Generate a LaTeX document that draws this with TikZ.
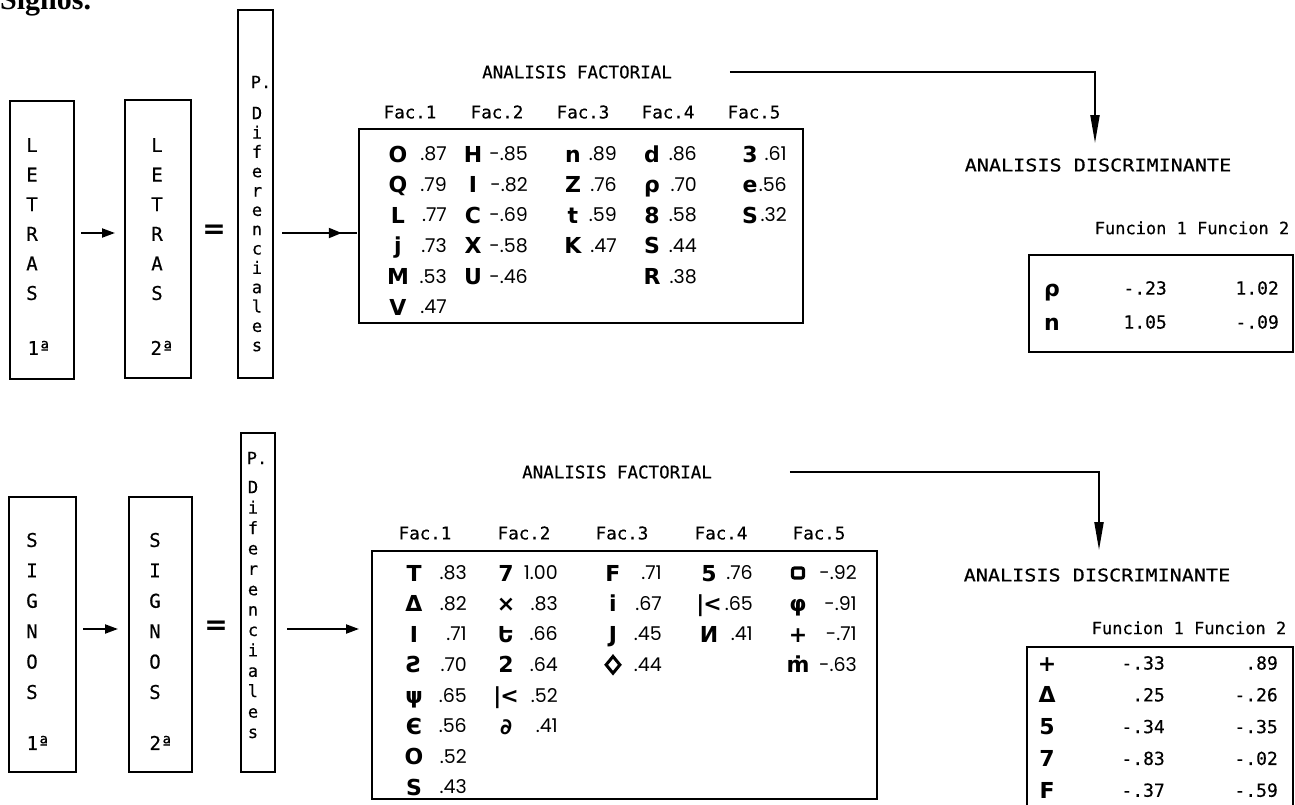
\documentclass[tikz,border=0pt]{standalone}
\usepackage{fontspec}
\usepackage{graphicx}
\setmainfont{Liberation Serif}
\newfontfamily\monof[FakeBold=0.4]{DejaVu Sans Mono}
\newfontfamily\symf{DejaVu Sans}
\newfontfamily\valf{Poppins}
\usetikzlibrary{arrows.meta,decorations.markings,shapes.geometric}
\begin{document}
\begin{tikzpicture}[x=1pt,y=-1pt,
  box/.style={draw, line width=2.2pt, inner sep=0pt, outer sep=0pt},
  conn/.style={line width=2pt},
  tip/.style={-{Triangle[length=13pt,width=9pt]}},
  longtip/.style={-{Triangle[length=28pt,width=9pt]}},
  midtip/.style={postaction={decorate}, decoration={markings, mark=at position 0.8 with {\arrow{Triangle[length=13pt,width=10pt]}}}},
  hdr/.style={font=\monof\fontsize{17.5}{20}\selectfont, inner sep=0pt, outer sep=0pt, text height=12.8pt, text depth=0pt},
  fun/.style={font=\monof\fontsize{17}{20}\selectfont, inner sep=0pt, outer sep=0pt, text height=12.4pt, text depth=0pt},
  boxl/.style={font=\monof\fontsize{19}{20}\selectfont, inner sep=0pt, text height=13.9pt, text depth=0pt},
  pl/.style={font=\monof\fontsize{17}{20}\selectfont, inner sep=0pt, text height=12.4pt, text depth=0pt},
  eq/.style={font=\symf\bfseries\fontsize{28}{30}\selectfont, inner sep=0pt},
  sym/.style={font=\symf\bfseries\fontsize{22}{24}\selectfont, inner sep=0pt, text height=16pt, text depth=0pt},
  glyphbox/.style={draw, line width=3.2pt, rounded corners=2pt, minimum width=11pt, minimum height=10pt, inner sep=0pt},
  glyphdia/.style={diamond, draw, line width=3pt, minimum width=15pt, minimum height=18pt, inner sep=0pt},
  val/.style={font=\valf\fontsize{19}{20}\selectfont, inner sep=0pt, text height=13.3pt, text depth=0pt, anchor=east},
  dval/.style={font=\monof\fontsize{18}{20}\selectfont, inner sep=0pt, text height=13.1pt, text depth=0pt, anchor=east}
]
\useasboundingbox (0,0) rectangle (1295,804);
\clip (0,0) rectangle (1295,804);
\fill[white] (0,0) rectangle (1295,804);

% title
\node[font=\bfseries\fontsize{30}{30}\selectfont, anchor=base west, inner sep=0pt] (ttl) at (0,9) {Signos.};

% ================= TOP: LETRAS =================
\node[box, minimum width=64pt, minimum height=278pt] (L1) at (42,240) {};
\node[box, minimum width=66pt, minimum height=278pt] (L2) at (158,239) {};
\node[box, minimum width=35pt, minimum height=368pt] (P1) at (255.5,194) {};
\foreach \c [count=\k from 0] in {L,E,T,R,A,S} {
  \node[boxl] (la\k) at (32,145+29.6*\k) {\c};
  \node[boxl] (lb\k) at (157,145+29.6*\k) {\c};
}
\node[boxl] (la6) at (39,348) {1ª};
\node[boxl] (lb6) at (162,348) {2ª};
\node[pl] (pa0) at (261,82) {P.};
\foreach \c [count=\k from 1] in {D,i,f,e,r,e,n,c,i,a,l,e,s} {
  \node[pl] (pa\k) at (257,113+19.33*\k-19.33) {\c};
}

% top factorial table
\node[box, minimum width=444pt, minimum height=194pt] (T1) at (581,226) {};
\node[hdr] (AF1) at (577,72) {ANALISIS FACTORIAL};
\foreach \x [count=\k] in {410,497,583,668,754} {
  \node[hdr] (fa\k) at (\x,112) {Fac.\k};
}
\foreach \s/\v [count=\k from 0] in {O/.87, Q/.79, L/.77, j/.73, M/.53, V/.47} {
  \node[sym] (t1a\k) at (398,154+30.6*\k) {\s};
  \node[val] (t1av\k) at (447,154+30.6*\k) {\v};
}
\foreach \s/\v [count=\k from 0] in {H/-.85, I/-.82, C/-.69, X/-.58, U/-.46} {
  \node[sym] (t1b\k) at (473,154+30.6*\k) {\s};
  \node[val] (t1bv\k) at (528,154+30.6*\k) {\v};
}
\foreach \s/\v [count=\k from 0] in {n/.89, Z/.76, t/.59, K/.47} {
  \node[sym] (t1c\k) at (573,154+30.6*\k) {\s};
  \node[val] (t1cv\k) at (617,154+30.6*\k) {\v};
}
\foreach \s/\v [count=\k from 0] in {d/.86, ρ/.70, 8/.58, S/.44, R/.38} {
  \node[sym] (t1d\k) at (652,154+30.6*\k) {\s};
  \node[val] (t1dv\k) at (697,154+30.6*\k) {\v};
}
\foreach \s/\v [count=\k from 0] in {3/.61, e/.56, S/.32} {
  \node[sym] (t1e\k) at (750,154+30.6*\k) {\s};
  \node[val] (t1ev\k) at (787,154+30.6*\k) {\v};
}

% top discriminant
\node[hdr] (AD1) at (1098,165) {\scalebox{1.15}[1]{ANALISIS DISCRIMINANTE}};
\node[fun] (F1) at (1192,228) {Funcion 1 Funcion 2};
\node[box, minimum width=264pt, minimum height=97pt] (D1) at (1161,303.5) {};
\foreach \s/\a/\b [count=\k from 0] in {ρ/-.23/1.02, n/1.05/-.09} {
  \node[sym] (d1s\k) at (1052,288+34*\k) {\s};
  \node[dval] (d1a\k) at (1167,288+34*\k) {\a};
  \node[dval] (d1b\k) at (1279,288+34*\k) {\b};
}

% top connectors
\coordinate (r1) at (0,233);
\draw[conn, tip, shorten <=7pt, shorten >=10pt] (L1.east |- r1) -- (L2.west |- r1);
\node[eq] (eq1) at (214,232) {=};
\draw[conn, midtip, shorten <=9pt, shorten >=2pt] (P1.east |- r1) -- (T1.west |- r1);
\draw[conn, longtip] ([xshift=58pt]AF1.east) -| ([xshift=-3pt,yshift=15.5pt]AD1.north);

% ================= BOTTOM: SIGNOS =================
\node[box, minimum width=67pt, minimum height=275pt] (S1) at (42.5,634.5) {};
\node[box, minimum width=63pt, minimum height=275pt] (S2) at (160.5,634.5) {};
\node[box, minimum width=34pt, minimum height=339pt] (P2) at (258,602.5) {};
\foreach \c [count=\k from 0] in {S,I,G,N,O,S} {
  \node[boxl] (sa\k) at (32,540+30.4*\k) {\c};
  \node[boxl] (sb\k) at (155,540+30.4*\k) {\c};
}
\node[boxl] (sa6) at (38,743) {1ª};
\node[boxl] (sb6) at (161,743) {2ª};
\node[pl] (pb0) at (257,458) {P.};
\foreach \c [count=\k from 1] in {D,i,f,e,r,e,n,c,i,a,l,e,s} {
  \node[pl] (pb\k) at (253,487+20.4*\k-20.4) {\c};
}

% bottom factorial table
\node[box, minimum width=505pt, minimum height=248pt] (T2) at (624.5,675) {};
\node[hdr] (AF2) at (617,472) {ANALISIS FACTORIAL};
\foreach \x [count=\k] in {425,524,622,721,819} {
  \node[hdr] (fb\k) at (\x,533) {Fac.\k};
}
\foreach \s/\v [count=\k from 0] in {T/.83, Δ/.82, I/.71, Ƨ/.70, ψ/.65, Є/.56, O/.52, S/.43} {
  \node[sym] (t2a\k) at (414,573+30.6*\k) {\s};
  \node[val] (t2av\k) at (467,573+30.6*\k) {\v};
}
\foreach \s/\v [count=\k from 0] in {7/1.00, ×/.83, Ե/.66, 2/.64, {|\kern-1pt<}/.52, ∂/.41} {
  \node[sym] (t2b\k) at (506,573+30.6*\k) {\s};
  \node[val] (t2bv\k) at (558,573+30.6*\k) {\v};
}
\foreach \s/\v [count=\k from 0] in {F/.71, i/.67, J/.45} {
  \node[sym] (t2c\k) at (613,573+30.6*\k) {\s};
  \node[val] (t2cv\k) at (662,573+30.6*\k) {\v};
}
\node[glyphdia] (t2c3) at (613,573+30.6*3) {};
\node[val] (t2cv3) at (662,573+30.6*3) {.44};
\foreach \s/\v [count=\k from 0] in {5/.76, {|\kern-1pt<}/.65, И/.41} {
  \node[sym] (t2d\k) at (709,573+30.6*\k) {\s};
  \node[val] (t2dv\k) at (753,573+30.6*\k) {\v};
}
\node[glyphbox] (t2e0) at (798,573) {};
\node[val] (t2ev0) at (857,573) {-.92};
\foreach \s/\v [count=\k from 1] in {φ/-.91, +/-.71, ṁ/-.63} {
  \node[sym] (t2e\k) at (798,573+30.6*\k) {\s};
  \node[val] (t2ev\k) at (857,573+30.6*\k) {\v};
}

% bottom discriminant
\node[hdr] (AD2) at (1097,575) {\scalebox{1.15}[1]{ANALISIS DISCRIMINANTE}};
\node[fun] (F2) at (1189,628) {Funcion 1 Funcion 2};
\node[box, minimum width=266pt, minimum height=183pt] (D2) at (1160,738.5) {};
\foreach \s/\a/\b [count=\k from 0] in {+/-.33/.89, Δ/.25/-.26, 5/-.34/-.35, 7/-.83/-.02, F/-.37/-.59} {
  \node[sym] (d2s\k) at (1047,663+31.8*\k) {\s};
  \node[dval] (d2a\k) at (1165,663+31.8*\k) {\a};
  \node[dval] (d2b\k) at (1278,663+31.8*\k) {\b};
}

% bottom connectors
\coordinate (r2) at (0,629);
\draw[conn, tip, shorten <=7pt, shorten >=11pt] (S1.east |- r2) -- (S2.west |- r2);
\node[eq] (eq2) at (216,628) {=};
\draw[conn, tip, shorten <=12pt, shorten >=13pt] (P2.east |- r2) -- (T2.west |- r2);
\draw[conn, longtip] ([xshift=78pt]AF2.east) -| ([xshift=2pt,yshift=18.5pt]AD2.north);
\end{tikzpicture}
\end{document}
